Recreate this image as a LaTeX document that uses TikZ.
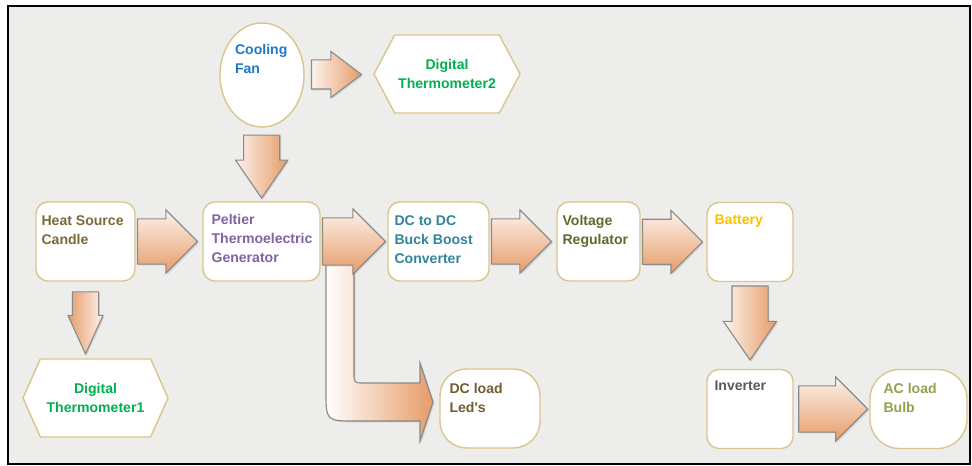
\documentclass[tikz,border=0pt]{standalone}
\usepackage{fontspec}
\setmainfont{Liberation Sans}
\usetikzlibrary{shapes.geometric,shapes.arrows,shapes.symbols,shadows}

\definecolor{bgcol}{HTML}{EDEDEB}
\definecolor{boxline}{HTML}{D8C68E}
\definecolor{arrline}{HTML}{8A8A8A}
\definecolor{arrlight}{HTML}{FDF2EC}
\definecolor{arrdark}{HTML}{E69C68}
\definecolor{fancol}{HTML}{1E78C8}
\definecolor{thermcol}{HTML}{00B050}
\definecolor{heatcol}{HTML}{7A6A3A}
\definecolor{peltcol}{HTML}{8064A2}
\definecolor{dccol}{HTML}{31859C}
\definecolor{vrcol}{HTML}{5E6A2C}
\definecolor{batcol}{HTML}{FFC000}
\definecolor{invcol}{HTML}{595959}
\definecolor{accol}{HTML}{98A04E}
\definecolor{ledcol}{HTML}{6E5E30}

\begin{document}
\begin{tikzpicture}[x=0.025cm, y=-0.025cm,
  font=\bfseries\fontsize{10}{13.5}\selectfont,
  box/.style={draw=boxline, line width=1pt, fill=white, rounded corners=8.5pt,
    minimum height=1.975cm, inner sep=0pt},
  txt/.style={anchor=north west, align=left, inner sep=0pt},
  hexa/.style={signal, signal to=west and east, draw=boxline, line width=1pt,
    fill=white, minimum height=1.95cm, inner sep=0pt, align=center, text=thermcol},
  fat/.style={single arrow, draw=arrline, line width=0.8pt, inner xsep=0pt, anchor=tip,
    drop shadow={opacity=0.25, shadow xshift=1pt, shadow yshift=-1pt}},
  harrow/.style={fat, minimum height=1.5cm, inner ysep=0.55cm, minimum width=1.55cm,
    single arrow head extend=0.225cm, top color=arrlight, bottom color=arrdark},
  darrow/.style={fat, rotate=-90, left color=arrlight, right color=arrdark}]

  % frame
  \useasboundingbox[fill=white] (0,0) rectangle (972,466);
  \filldraw[fill=bgcol, line width=1.4pt] (8,6) rectangle (970,464);

  % blocks
  \node[ellipse, draw=boxline, line width=1pt, fill=white, minimum width=2.1cm, minimum height=2.6cm,
    label={[txt, text=fancol, shift={(3,6)}]north west:Cooling\\Fan}] (fan) at (262, 75) {};
  \node[hexa, minimum width=3.65cm, signal pointer angle=124] (th2) at (447, 74) {Digital\\Thermometer2};
  \node[box, minimum width=2.475cm, label={[txt, text=heatcol, shift={(6,14)}]north west:Heat Source\\Candle}] (heat) at (85.5, 241.5) {};
  \node[box, minimum width=2.925cm, label={[txt, text=peltcol, shift={(9,13)}]north west:Peltier\\Thermoelectric\\Generator}] (pelt) at (261.5, 241.5) {};
  \node[box, minimum width=2.525cm, label={[txt, text=dccol, shift={(7,14)}]north west:DC to DC\\Buck Boost\\Converter}] (dc) at (438.5, 241.5) {};
  \node[box, minimum width=2.075cm, label={[txt, text=vrcol, shift={(6,14)}]north west:Voltage\\Regulator}] (vr) at (598.5, 241.5) {};
  \node[box, minimum width=2.15cm, label={[txt, text=batcol, shift={(8,13)}]north west:Battery}] (bat) at (750, 242) {};
  \node[box, minimum width=2.15cm, label={[txt, text=invcol, shift={(8,12)}]north west:Inverter}] (inv) at (750, 409) {};
  \node[box, minimum width=2.425cm, rounded corners=21pt, label={[txt, text=accol, shift={(14,14)}]north west:AC load\\Bulb}] (ac) at (918.5, 409) {};
  \node[box, minimum width=2.5cm, rounded corners=19pt, label={[txt, text=ledcol, shift={(10,15)}]north west:DC load\\Led\textquotesingle s}] (dcload) at (490, 408.5) {};
  \node[hexa, minimum width=3.625cm, signal pointer angle=132] (th1) at (95.5, 398) {Digital\\Thermometer1};

  % bent arrow to the dc load
  \filldraw[draw=arrline, line width=0.8pt, left color=white, right color=arrdark,
    drop shadow={opacity=0.25, shadow xshift=1pt, shadow yshift=-1pt}]
    (326,264) -- (326,391) .. controls (326,421) .. (356,421) -- (420,421) -- (420,441)
    -- (433,402) -- (420,363) -- (420,383) -- (364,383) .. controls (354,383) .. (354,373)
    -- (354,264) -- cycle;

  % arrows
  \path (heat) -- node[harrow, pos=0.94] (a1) {} (pelt);
  \path (pelt) -- node[harrow, pos=0.985, minimum height=1.575cm, inner ysep=0.575cm] (a2) {} (dc);
  \path (dc) -- node[harrow, pos=0.94] (a3) {} (vr);
  \path (vr) -- node[harrow, pos=0.955] (a4) {} (bat);
  \path (inv) -- node[harrow, pos=0.99, minimum height=1.725cm, inner ysep=0.5625cm] (a5) {} (ac);
  \path (fan) -- node[fat, pos=0.84, minimum height=1.25cm, inner ysep=0.35cm, minimum width=1.125cm,
    single arrow head extend=0.2125cm, single arrow tip angle=74,
    left color=arrlight, right color=arrdark] (a6) {} (th2);
  \path (fan) -- node[darrow, pos=0.97, minimum height=1.575cm, inner ysep=0.4375cm, minimum width=1.275cm,
    single arrow head extend=0.2cm, single arrow tip angle=69] (a7) {} (pelt);
  \path (bat) -- node[darrow, pos=0.91, minimum height=1.85cm, inner ysep=0.4375cm, minimum width=1.3cm,
    single arrow head extend=0.2125cm, single arrow tip angle=69] (a8) {} (inv);
  \path (heat.south) -- node[darrow, pos=0.96, minimum height=1.55cm, inner ysep=0.3125cm, minimum width=0.85cm,
    single arrow head extend=0.1125cm, single arrow tip angle=49,
    left color=arrdark, right color=arrlight] (a9) {} (heat.south |- th1.north);
\end{tikzpicture}
\end{document}
